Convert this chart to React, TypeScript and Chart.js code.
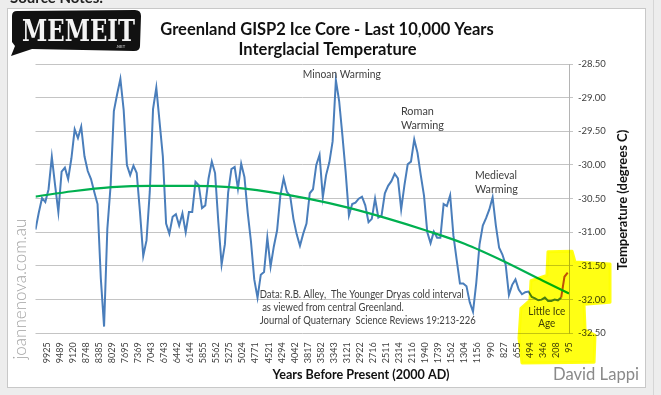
import React, { useEffect, useRef } from 'react';
import { Chart, registerables } from 'chart.js';

Chart.register(...registerables);

// ---------- data ----------
const xTickLabels = [
  '9925', '9489', '9120', '8748', '8385', '8029', '7695', '7369', '7043', '6743',
  '6442', '6144', '5855', '5562', '5275', '5024', '4771', '4521', '4294', '4042',
  '3817', '3582', '3343', '3121', '2922', '2716', '2511', '2314', '2116', '1940',
  '1739', '1562', '1304', '1156', '990', '827', '655', '494', '346', '208', '95',
];

const yTickValues = [-32.5, -32.0, -31.5, -31.0, -30.5, -30.0, -29.5, -29.0, -28.5];

// GISP2 temperature (deg C), sampled evenly along the category axis
const X_START = -0.85;
const X_STEP = 0.25;
const gispTemps = [
  -30.96, -30.71, -30.49, -30.55, -30.36, -29.88, -30.30, -30.70, -30.10, -30.04,
  -30.21, -29.90, -29.47, -29.60, -29.43, -29.87, -30.09, -30.21, -30.40, -30.58,
  -31.68, -32.40, -30.95, -30.31, -29.20, -28.95, -28.72, -29.18, -30.00, -30.15,
  -30.01, -30.12, -30.70, -31.35, -31.12, -30.40, -29.17, -28.85, -29.36, -29.87,
  -30.87, -31.02, -30.77, -30.73, -30.90, -30.72, -31.00, -30.70, -30.70, -30.25,
  -30.30, -30.64, -30.60, -30.20, -29.95, -30.12, -30.85, -31.48, -31.18, -30.41,
  -30.06, -30.03, -30.35, -29.98, -30.18, -30.71, -31.14, -31.70, -31.97, -31.63,
  -31.59, -31.08, -31.51, -31.21, -30.97, -30.45, -30.20, -30.40, -30.46, -30.80,
  -31.03, -31.20, -31.02, -30.87, -30.42, -30.36, -30.00, -29.85, -30.48, -30.15,
  -29.96, -29.65, -28.74, -29.05, -29.56, -30.11, -30.75, -30.58, -30.56, -30.50,
  -30.47, -30.60, -30.85, -30.80, -30.50, -30.78, -30.75, -30.42, -30.31, -30.24,
  -30.13, -30.20, -30.66, -30.30, -29.99, -29.95, -29.62, -29.82, -30.15, -30.46,
  -31.00, -31.16, -30.99, -31.08, -31.08, -30.58, -30.61, -30.45, -31.05, -31.41,
  -31.76, -31.76, -31.80, -32.04, -32.18, -31.75, -31.18, -30.90, -30.79, -30.66,
  -30.48, -30.90, -31.23, -31.33, -31.48, -31.93, -31.78, -31.70, -31.85, -31.92,
  -31.89, -31.88, -31.96, -31.98, -32.01, -32.00, -31.97, -32.02, -32.02, -32.00,
  -32.01, -31.97,
];

// recent warming segment (continues the same sampling grid)
const RECENT_START = 161;
const recentTemps = [-31.97, -31.66, -31.60];

// trend line
const trendX = [-0.85, 2, 5, 8, 11, 14, 17, 20, 23, 26, 29, 32, 35, 38, 40];
const trendTemps = [
  -30.47, -30.39, -30.33, -30.31, -30.31, -30.33, -30.40, -30.50, -30.63, -30.79,
  -30.97, -31.17, -31.43, -31.72, -31.91,
];

// ---------- annotations (data units) ----------
const plotNotes = [
  { lines: ['Minoan Warming'], x: 22.6, y: -28.66, align: 'center', widths: [78] },
  { lines: ['Roman', 'Warming'], x: 27.13, y: -29.2, align: 'left', widths: [33, 43] },
  { lines: ['Medieval', 'Warming'], x: 32.8, y: -30.15, align: 'left', widths: [42, 43] },
  {
    lines: [
      'Data: R.B. Alley,  The Younger Dryas cold interval',
      ' as viewed from central Greenland.',
      'Journal of Quaternary  Science Reviews 19:213-226',
    ],
    x: 16.32, y: -31.93, align: 'left', widths: [204, 144, 216], size: 10.5, lh: 12.8,
  },
  { lines: ['Little Ice', 'Age'], x: 38.3, y: -32.18, align: 'center', widths: [37, 17], size: 10.5, lh: 12 },
];

const highlightPoly = [
  [38.39, -31.29], [40.23, -31.28], [40.46, -31.44], [43.14, -31.47], [43.14, -32.04],
  [41.15, -32.07], [41.23, -32.45], [41.99, -32.53], [41.92, -32.93], [36.4, -32.94],
  [36.17, -32.57], [36.32, -32.13], [37.01, -32.01], [37.09, -31.72], [38.31, -31.64],
];

const FONT = 'Lato, "Open Sans", sans-serif';

function drawText(
  ctx: CanvasRenderingContext2D, text: string, x: number, y: number,
  font: string, color: string, align: CanvasTextAlign, maxWidth?: number, rot = 0,
) {
  ctx.save();
  ctx.translate(x, y);
  if (rot) ctx.rotate(rot);
  ctx.font = font;
  ctx.fillStyle = color;
  ctx.textAlign = align;
  ctx.textBaseline = 'middle';
  if (maxWidth) ctx.fillText(text, 0, 0, maxWidth);
  else ctx.fillText(text, 0, 0);
  ctx.restore();
}

const backgroundPlugin = {
  id: 'bg',
  beforeDraw(chart: any) {
    const ctx: CanvasRenderingContext2D = chart.ctx;
    ctx.save();
    ctx.fillStyle = '#ededed';
    ctx.fillRect(0, 0, chart.width, chart.height);
    ctx.fillStyle = '#ffffff';
    ctx.fillRect(8, 9, 637, 378);
    ctx.strokeStyle = '#c8c8c8';
    ctx.lineWidth = 1;
    ctx.strokeRect(7.5, 8.5, 638, 379);
    ctx.strokeStyle = '#d6d6d6';
    ctx.beginPath();
    ctx.moveTo(653.5, 0);
    ctx.lineTo(653.5, chart.height);
    ctx.stroke();
    ctx.font = `bold 15px ${FONT}`;
    ctx.fillStyle = '#222';
    ctx.textAlign = 'left';
    ctx.textBaseline = 'alphabetic';
    ctx.fillText('Source Notes:', 10, 3);
    ctx.restore();
  },
};

const overlayPlugin = {
  id: 'overlay',
  afterDraw(chart: any) {
    const ctx: CanvasRenderingContext2D = chart.ctx;
    const xs = chart.scales.x;
    const ys = chart.scales.y;

    // logo
    ctx.save();
    ctx.fillStyle = '#111';
    ctx.beginPath();
    ctx.moveTo(17, 11);
    ctx.lineTo(135, 10);
    ctx.quadraticCurveTo(141, 10, 141, 16);
    ctx.lineTo(140, 46);
    ctx.quadraticCurveTo(140, 51, 134, 51);
    ctx.lineTo(32, 49);
    ctx.lineTo(11, 56);
    ctx.lineTo(15, 46);
    ctx.lineTo(12, 42);
    ctx.lineTo(12, 16);
    ctx.quadraticCurveTo(12, 11, 17, 11);
    ctx.closePath();
    ctx.fill();
    ctx.font = 'bold 29px "DejaVu Serif", serif';
    ctx.fillStyle = '#f4f4f4';
    ctx.textAlign = 'left';
    ctx.textBaseline = 'alphabetic';
    ctx.fillText('MEMEIT', 22, 41, 113);
    ctx.font = 'bold 4px sans-serif';
    ctx.fillStyle = '#aaa';
    ctx.fillText('.NET', 116, 48);
    ctx.restore();

    // titles
    drawText(ctx, 'Greenland GISP2 Ice Core - Last 10,000 Years', 327, 30, `bold 16.5px ${FONT}`, '#111', 'center', 340);
    drawText(ctx, 'Interglacial Temperature', 327.5, 50, `bold 16.5px ${FONT}`, '#111', 'center', 186);

    // axis titles
    drawText(ctx, 'Years Before Present (2000 AD)', 361, 375, `bold 13px ${FONT}`, '#111', 'center', 177);
    drawText(ctx, 'Temperature (degrees C)', 623, 200, `bold 13px ${FONT}`, '#111', 'center', 145, -Math.PI / 2);

    // watermarks
    drawText(ctx, 'joannenova.com.au', 21, 289, `300 17px ${FONT}`, '#a3a3a3', 'center', 148, -Math.PI / 2);
    drawText(ctx, 'David Lappi', 596, 375, `17px ${FONT}`, '#8a8a8a', 'center', 86);

    // plot notes
    for (const n of plotNotes) {
      const size = (n as any).size ?? 11;
      const lh = (n as any).lh ?? 14;
      const px = xs.getPixelForValue(n.x);
      const py = ys.getPixelForValue(n.y);
      n.lines.forEach((t, i) => {
        drawText(ctx, t, px, py + i * lh, `${size}px ${FONT}`, '#404040', n.align as CanvasTextAlign, n.widths[i]);
      });
    }

    // highlighter
    ctx.save();
    ctx.globalCompositeOperation = 'multiply';
    ctx.fillStyle = '#ffff14';
    ctx.strokeStyle = '#ffff14';
    ctx.lineWidth = 3;
    ctx.lineJoin = 'round';
    ctx.beginPath();
    highlightPoly.forEach(([vx, vy], i) => {
      const px = xs.getPixelForValue(vx);
      const py = ys.getPixelForValue(vy);
      if (i === 0) ctx.moveTo(px, py);
      else ctx.lineTo(px, py);
    });
    ctx.closePath();
    ctx.fill();
    ctx.stroke();
    ctx.restore();
  },
};

export default function App() {
  const ref = useRef<HTMLCanvasElement>(null);

  useEffect(() => {
    const canvas = ref.current;
    if (!canvas) return;

    const gispPoints = gispTemps.map((t, i) => ({ x: X_START + i * X_STEP, y: t }));
    const recentPoints = recentTemps.map((t, i) => ({ x: X_START + (RECENT_START + i) * X_STEP, y: t }));
    const trendPoints = trendTemps.map((t, i) => ({ x: trendX[i], y: t }));

    const chart = new Chart(canvas, {
      type: 'line',
      data: {
        datasets: [
          {
            label: 'GISP2',
            data: gispPoints,
            borderColor: '#4a7ebb',
            borderWidth: 2,
            pointRadius: 0,
            tension: 0,
            order: 2,
          },
          {
            label: 'Recent',
            data: recentPoints,
            borderColor: '#c0504d',
            borderWidth: 2,
            pointRadius: 0,
            tension: 0,
            order: 1,
          },
          {
            label: 'Trend',
            data: trendPoints,
            borderColor: '#00b050',
            borderWidth: 2.2,
            pointRadius: 0,
            cubicInterpolationMode: 'monotone',
            order: 0,
          },
        ],
      },
      options: {
        animation: false,
        responsive: false,
        devicePixelRatio: 1,
        layout: { padding: { left: 35.5, top: 64, right: 0, bottom: 0 } },
        plugins: {
          legend: { display: false },
          tooltip: { enabled: false },
          title: { display: false },
        },
        scales: {
          x: {
            type: 'linear',
            position: 'bottom',
            min: X_START,
            max: xTickLabels.length - 1,
            grid: { display: false, drawTicks: false },
            border: { display: false },
            afterBuildTicks: (s: any) => {
              s.ticks = xTickLabels.map((_, i) => ({ value: i }));
            },
            afterFit: (s: any) => {
              s.height = 61.7;
            },
            ticks: {
              autoSkip: false,
              maxRotation: 90,
              minRotation: 90,
              padding: 9,
              color: '#404040',
              font: { family: FONT, size: 9 },
              callback: (v: any) => xTickLabels[Math.round(Number(v))] ?? '',
            },
          },
          y: {
            type: 'linear',
            position: 'right',
            min: yTickValues[0],
            max: yTickValues[yTickValues.length - 1],
            afterBuildTicks: (s: any) => {
              s.ticks = yTickValues.map((v) => ({ value: v }));
            },
            afterFit: (s: any) => {
              s.width = 92;
            },
            grid: { color: '#c4c4c4', lineWidth: 1, drawTicks: true, tickLength: 4 },
            border: { display: true, color: '#b4b4b4', width: 1 },
            ticks: {
              padding: 5,
              color: '#404040',
              font: { family: FONT, size: 9.5 },
              callback: (v: any) => Number(v).toFixed(2),
            },
          },
        },
      },
      plugins: [backgroundPlugin, overlayPlugin],
    } as any);

    return () => chart.destroy();
  }, []);

  return (
    <div style={{ position: 'fixed', left: 0, top: 0, width: 661, height: 395 }}>
      <canvas ref={ref} width={661} height={395} style={{ display: 'block', width: 661, height: 395 }} />
    </div>
  );
}
